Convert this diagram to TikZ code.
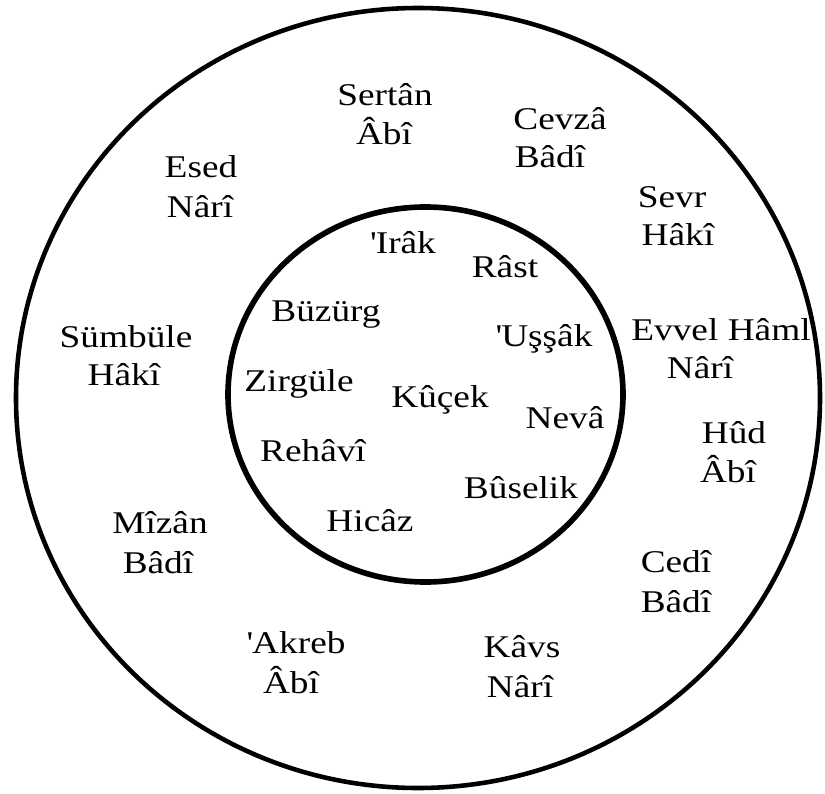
\documentclass[tikz,border=0pt]{standalone}
\usepackage{fontspec}
\setmainfont{Liberation Serif}[FakeStretch=1.18]

\begin{document}
\begin{tikzpicture}[x=0.02cm, y=-0.02cm]
        % Common Styles
        \tikzset{ring/.style={black, line width=2.6pt}}
        \tikzset{core/.style={black, line width=3.2pt}}
        \tikzset{sign/.style={anchor=base, inner sep=0pt, font=\fontsize{18}{22}\selectfont}}
        \tikzset{makam/.style={anchor=base, inner sep=0pt, font=\fontsize{18}{22}\selectfont}}

        \useasboundingbox (0, 0) rectangle (825, 794);

        % 1. Outer ring
        \draw[ring] (418, 398) ellipse [x radius=402, y radius=390];
        \node[sign] (sertan) at (385, 106) {Sertân};
        \node[sign] (sertanA) at (384, 145) {Âbî};
        \node[sign] (cevza) at (560, 130) {Cevzâ};
        \node[sign] (cevzaB) at (550, 168) {Bâdî};
        \node[sign] (esed) at (201, 177) {Esed};
        \node[sign] (esedN) at (200, 217) {Nârî};
        \node[sign] (sevr) at (672, 207) {Sevr};
        \node[sign] (sevrH) at (678, 245) {Hâkî};
        \node[sign] (sumbule) at (126, 347) {Sümbüle};
        \node[sign] (sumbuleH) at (124, 385) {Hâkî};
        \node[sign] (hamel) at (721, 340) {Evvel Hâml};
        \node[sign] (hamelN) at (700, 378) {Nârî};
        \node[sign] (hud) at (734, 443) {Hûd};
        \node[sign] (hudA) at (728, 482) {Âbî};
        \node[sign] (mizan) at (160, 533) {Mîzân};
        \node[sign] (mizanB) at (158, 573) {Bâdî};
        \node[sign] (cedi) at (676, 572) {Cedî};
        \node[sign] (cediB) at (676, 612) {Bâdî};
        \node[sign] (akreb) at (296, 653) {\textquotesingle Akreb};
        \node[sign] (akrebA) at (291, 693) {Âbî};
        \node[sign] (kavs) at (522, 657) {Kâvs};
        \node[sign] (kavsN) at (520, 697) {Nârî};

        % 2. Inner circle
        \draw[core] (425.5, 394.5) ellipse [x radius=197.5, y radius=187.5];
        \node[makam] (irak) at (403, 253) {\textquotesingle Irâk};
        \node[makam] (rast) at (505, 277) {Râst};
        \node[makam] (buzurg) at (326, 321) {Büzürg};
        \node[makam] (ussak) at (544, 346) {\textquotesingle Uşşâk};
        \node[makam] (zirgule) at (299, 391) {Zirgüle};
        \node[makam] (kucek) at (440, 407) {Kûçek};
        \node[makam] (neva) at (565, 428) {Nevâ};
        \node[makam] (rehavi) at (313, 461) {Rehâvî};
        \node[makam] (buselik) at (521, 498) {Bûselik};
        \node[makam] (hicaz) at (370, 531) {Hicâz};
    \end{tikzpicture}
\end{document}
